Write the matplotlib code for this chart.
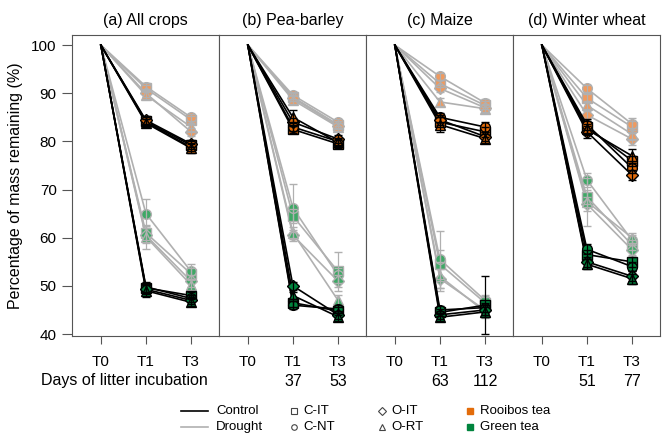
import numpy as np
import matplotlib
matplotlib.use("Agg")
import matplotlib.pyplot as plt
from matplotlib import transforms

plt.rcParams['font.family'] = ['Liberation Sans', 'DejaVu Sans']

# panels and sampling times
panels = ["(a) All crops", "(b) Pea-barley", "(c) Maize", "(d) Winter wheat"]
times = ["T0", "T1", "T3"]
days_t1 = ["", "37", "63", "51"]
days_t3 = ["", "53", "112", "77"]

treatments = ["C-IT", "C-NT", "O-IT", "O-RT"]
markers = ["s", "o", "D", "^"]

# each row: (T1 mean, T1 se, T3 mean, T3 se) for C-IT, C-NT, O-IT, O-RT
a_rooibos_ctrl = [(84.2, 0.8, 79.2, 0.8), (84.0, 0.7, 78.8, 0.8), (84.4, 0.8, 79.5, 0.7), (83.8, 0.8, 78.6, 0.9)]
a_rooibos_drt = [(91.0, 0.8, 84.5, 0.8), (91.4, 0.7, 85.0, 0.7), (90.0, 0.8, 82.0, 0.8), (89.6, 0.8, 83.0, 0.8)]
a_green_ctrl = [(49.6, 1.0, 48.0, 0.8), (49.8, 1.0, 47.4, 0.8), (49.3, 1.0, 47.0, 0.8), (49.0, 1.2, 46.6, 0.8)]
a_green_drt = [(61.0, 1.5, 52.5, 1.2), (65.0, 3.0, 53.0, 1.5), (60.5, 1.5, 51.0, 1.2), (60.2, 2.5, 50.2, 1.2)]

b_rooibos_ctrl = [(82.5, 0.8, 79.5, 0.8), (83.0, 0.8, 80.0, 0.8), (84.0, 0.8, 80.5, 0.8), (85.0, 1.5, 79.8, 0.8)]
b_rooibos_drt = [(89.2, 0.8, 83.5, 0.8), (89.6, 0.7, 84.0, 0.7), (89.0, 0.7, 83.2, 0.7), (88.6, 0.8, 83.0, 0.8)]
b_green_ctrl = [(46.5, 0.8, 44.8, 0.8), (46.0, 0.8, 45.2, 0.8), (50.0, 0.8, 44.0, 0.8), (48.0, 0.8, 43.6, 0.8)]
b_green_drt = [(64.5, 1.5, 53.0, 4.0), (66.2, 5.0, 52.2, 1.5), (60.5, 1.2, 51.0, 1.2), (61.0, 1.2, 47.0, 1.2)]

c_rooibos_ctrl = [(84.0, 1.0, 82.0, 1.0), (85.0, 1.0, 83.0, 1.0), (84.5, 1.0, 81.0, 1.0), (83.5, 1.5, 80.6, 1.0)]
c_rooibos_drt = [(92.0, 0.8, 87.5, 0.8), (93.5, 0.8, 88.0, 0.8), (91.0, 0.8, 87.0, 0.8), (88.2, 0.8, 86.8, 0.8)]
c_green_ctrl = [(44.5, 0.8, 46.0, 6.0), (45.0, 0.8, 45.5, 1.0), (44.0, 0.8, 45.0, 1.0), (43.5, 0.8, 44.6, 1.0)]
c_green_drt = [(54.5, 3.0, 46.5, 1.2), (55.5, 6.0, 47.0, 1.2), (51.5, 2.0, 45.0, 1.2), (52.0, 3.0, 44.6, 1.2)]

d_rooibos_ctrl = [(83.0, 1.2, 76.0, 1.0), (83.5, 1.2, 74.5, 1.0), (82.0, 1.2, 73.0, 1.0), (82.5, 1.2, 77.0, 1.5)]
d_rooibos_drt = [(89.0, 0.8, 83.0, 1.2), (91.0, 0.8, 83.6, 1.2), (85.5, 0.8, 80.5, 1.2), (87.5, 0.8, 81.5, 1.2)]
d_green_ctrl = [(56.5, 1.0, 55.0, 1.0), (57.6, 1.0, 54.0, 1.0), (55.0, 1.0, 52.0, 1.0), (54.5, 1.0, 51.5, 1.0)]
d_green_drt = [(68.5, 1.5, 58.5, 1.0), (72.0, 1.5, 59.5, 1.0), (67.0, 1.5, 57.5, 1.0), (67.5, 5.0, 60.0, 1.0)]

panel_data = [
    (a_rooibos_drt, a_green_drt, a_rooibos_ctrl, a_green_ctrl),
    (b_rooibos_drt, b_green_drt, b_rooibos_ctrl, b_green_ctrl),
    (c_rooibos_drt, c_green_drt, c_rooibos_ctrl, c_green_ctrl),
    (d_rooibos_drt, d_green_drt, d_rooibos_ctrl, d_green_ctrl),
]

orange = "#E36C0A"
orange_light = "#F09A5E"
green = "#00843D"
green_light = "#3FA866"
grey = "#B0B0B0"

W, H = 663, 433
fig = plt.figure(figsize=(W / 100, H / 100), dpi=100)

left, right, top, bottom = 72, 660, 35, 336
pw = (right - left) / 4
axes = []
for i in range(4):
    ax = fig.add_axes([(left + i * pw) / W, 1 - bottom / H, pw / W, (bottom - top) / H],
                      sharey=axes[0] if axes else None)
    axes.append(ax)

x = np.arange(3)
for i, ax in enumerate(axes):
    rdrt, gdrt, rctl, gctl = panel_data[i]
    groups = [(rdrt, grey, orange_light, grey), (gdrt, grey, green_light, grey),
              (rctl, "black", orange, "black"), (gctl, "black", green, "black")]
    for rows, lc, fc, ec in groups:
        z = 2 if lc == grey else 5
        for j, r in enumerate(rows):
            y = [100, r[0], r[2]]
            ax.plot(x, y, color=lc, lw=1.2, zorder=z)
            ax.plot(x[1:], y[1:], ls="none", marker=markers[j], ms=7 if markers[j] != "D" else 6,
                    mfc=fc, mec=ec, mew=1, zorder=z + 1)
            ax.errorbar(x[1:], y[1:], yerr=[r[1], r[3]], fmt="none", ecolor=ec,
                        elinewidth=0.9, capsize=3, zorder=z + 2)
    ax.set_xlim(-0.64, 2.62)
    ax.set_ylim(39.6, 102.1)
    ax.set_xticks(x)
    ax.set_xticklabels(times, fontsize=11)
    ax.tick_params(axis="x", length=6, pad=8, color="#555555")
    ax.set_title(panels[i], fontsize=11.5, pad=7)
    for s in ax.spines.values():
        s.set_color("#555555")
    if i == 0:
        ax.set_yticks([40, 50, 60, 70, 80, 90, 100])
        ax.tick_params(axis="y", labelsize=11, length=7, pad=4, color="#555555")
        ax.set_ylabel("Percentage of mass remaining (%)", fontsize=11.5, labelpad=6)
    else:
        ax.tick_params(axis="y", left=False, labelleft=False)
    tr = transforms.blended_transform_factory(ax.transData, fig.transFigure)
    ax.text(1, 1 - 381 / H, days_t1[i], transform=tr, ha="center", va="center", fontsize=11.5)
    ax.text(2, 1 - 381 / H, days_t3[i], transform=tr, ha="center", va="center", fontsize=11.5)

fig.text(41 / W, 1 - 381 / H, "Days of litter incubation", ha="left", va="center", fontsize=11.5)

# legend drawn in pixel coordinates
lg = fig.add_axes([0, 0, 1, 1])
lg.set_xlim(0, W)
lg.set_ylim(H, 0)
lg.axis("off")
fs = 9.5
y1, y2 = 411, 427
lg.plot([181, 208], [y1, y1], color="black", lw=1.2)
lg.plot([181, 208], [y2, y2], color=grey, lw=1.2)
lg.text(216, y1, "Control", va="center", fontsize=fs)
lg.text(216, y2, "Drought", va="center", fontsize=fs)
lg.plot(294, y1, marker="s", ms=4, mfc="white", mec="#444444", mew=0.8)
lg.plot(294, y2, marker="o", ms=4, mfc="white", mec="#444444", mew=0.8)
lg.text(303, y1, "C-IT", va="center", fontsize=fs)
lg.text(303, y2, "C-NT", va="center", fontsize=fs)
lg.plot(382, y1, marker="D", ms=4, mfc="white", mec="#444444", mew=0.8)
lg.plot(382, y2, marker="^", ms=4.5, mfc="white", mec="#444444", mew=0.8)
lg.text(391, y1, "O-IT", va="center", fontsize=fs)
lg.text(391, y2, "O-RT", va="center", fontsize=fs)
lg.plot(470, y1, marker="s", ms=4.5, mfc=orange, mec=orange)
lg.plot(470, y2, marker="s", ms=4.5, mfc=green, mec=green)
lg.text(480, y1, "Rooibos tea", va="center", fontsize=fs)
lg.text(480, y2, "Green tea", va="center", fontsize=fs)

fig.savefig("out.png", dpi=100)
